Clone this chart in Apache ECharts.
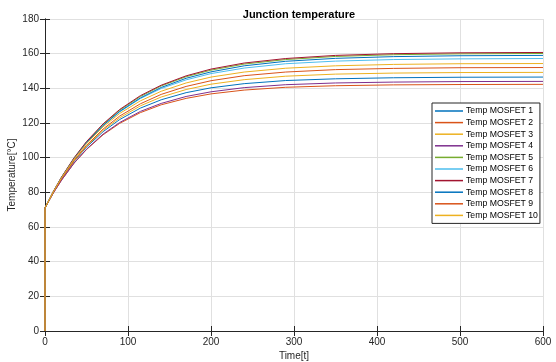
<!DOCTYPE html>
<html>
<head>
<meta charset="utf-8">
<script src="https://cdn.jsdelivr.net/npm/echarts@6/dist/echarts.min.js"></script>
<style>html,body{margin:0;padding:0;background:#fff}#c{width:556px;height:362px}</style>
</head>
<body>
<div id="c"></div>
<script>
// time samples (first two at t=0: step from 0 to start temperature)
const times = [0, 0, 10, 20, 35, 50, 70, 90, 115, 140, 170, 200, 240, 290, 350, 420, 500, 600];
const seriesNames = ['Temp MOSFET 1','Temp MOSFET 2','Temp MOSFET 3','Temp MOSFET 4','Temp MOSFET 5','Temp MOSFET 6','Temp MOSFET 7','Temp MOSFET 8','Temp MOSFET 9','Temp MOSFET 10'];
const colors = ['#0072BD','#D95319','#EDB120','#7E2F8E','#77AC30','#4DBEEE','#A2142F','#0072BD','#D95319','#EDB120'];
const mosfet1  = [0, 71, 79.9, 87.7, 97.8, 106.1, 115.0, 122.0, 128.6, 133.4, 137.5, 140.3, 142.7, 144.5, 145.5, 146.1, 146.4, 146.5];
const mosfet2  = [0, 71, 79.6, 87.1, 96.8, 104.7, 113.2, 119.8, 126.0, 130.5, 134.2, 136.8, 139.0, 140.6, 141.5, 142.0, 142.2, 142.3];
const mosfet3  = [0, 71, 79.9, 87.9, 98.1, 106.6, 115.8, 123.0, 129.9, 135.0, 139.3, 142.4, 145.0, 147.0, 148.2, 148.8, 149.1, 149.2];
const mosfet4  = [0, 71, 79.6, 87.1, 96.9, 104.9, 113.6, 120.3, 126.7, 131.3, 135.3, 138.0, 140.4, 142.1, 143.1, 143.6, 143.9, 144.0];
const mosfet5  = [0, 71, 80.4, 88.8, 99.7, 109.0, 119.2, 127.4, 135.3, 141.4, 146.7, 150.5, 154.0, 156.6, 158.4, 159.4, 159.9, 160.1];
const mosfet6  = [0, 71, 80.3, 88.6, 99.5, 108.6, 118.5, 126.4, 134.1, 139.9, 144.9, 148.5, 151.7, 154.2, 155.7, 156.6, 157.0, 157.2];
const mosfet7  = [0, 71, 80.5, 88.9, 99.9, 109.3, 119.5, 127.8, 135.8, 141.8, 147.2, 151.1, 154.6, 157.2, 159.0, 160.0, 160.5, 160.7];
const mosfet8  = [0, 71, 80.3, 88.6, 99.4, 108.6, 118.6, 126.7, 134.5, 140.5, 145.8, 149.5, 153.0, 155.6, 157.3, 158.3, 158.8, 159.0];
const mosfet9  = [0, 71, 80.0, 88.0, 98.4, 107.1, 116.5, 124.0, 131.1, 136.5, 141.1, 144.4, 147.3, 149.4, 150.8, 151.5, 151.9, 152.0];
const mosfet10 = [0, 71, 80.3, 88.5, 99.2, 108.1, 117.8, 125.5, 132.8, 138.3, 143.1, 146.5, 149.4, 151.6, 153.0, 153.8, 154.2, 154.3];
const allValues = [mosfet1, mosfet2, mosfet3, mosfet4, mosfet5, mosfet6, mosfet7, mosfet8, mosfet9, mosfet10];

const FONT = 'Liberation Sans';
const AX = '#262626';
const chart = echarts.init(document.getElementById('c'), null, {renderer: 'canvas'});
const axisCommon = {
  axisLine: {show: true, lineStyle: {color: AX, width: 1}},
  axisTick: {show: true, inside: true, length: 5, lineStyle: {color: AX}},
};
chart.setOption({
  animation: false,
  backgroundColor: '#fff',
  color: colors,
  title: {
    text: 'Junction temperature', left: 294, top: 4, textAlign: 'center',
    textStyle: {fontFamily: FONT, fontSize: 11, fontWeight: 'bold', color: '#000'}
  },
  grid: {left: 45, right: 13, top: 19, bottom: 31, containLabel: false, outerBoundsMode: 'none'},
  legend: {
    orient: 'vertical', left: 432, top: 103,
    data: seriesNames,
    icon: 'rect', itemWidth: 28, itemHeight: 1.5, itemGap: 1.6,
    padding: [3, 2, 3, 3],
    borderColor: AX, borderWidth: 1, backgroundColor: '#fff', borderRadius: 0,
    textStyle: {fontFamily: FONT, fontSize: 8.7, color: '#000', lineHeight: 10, padding: [0, 0, 0, -2]}
  },
  xAxis: [
    Object.assign({
      type: 'value', min: 0, max: 600, interval: 100,
      name: 'Time[t]', nameLocation: 'middle', nameGap: 20, nameMoveOverlap: false,
      nameTextStyle: {fontFamily: FONT, fontSize: 10, color: AX},
      axisLabel: {fontFamily: FONT, fontSize: 10, color: AX, margin: 6},
      splitLine: {show: true, lineStyle: {color: '#e0e0e0', width: 1}}
    }, axisCommon),
    Object.assign({
      type: 'value', min: 0, max: 600, interval: 100, position: 'top',
      axisLabel: {show: false}, splitLine: {show: false}
    }, axisCommon)
  ],
  yAxis: [
    Object.assign({
      type: 'value', min: 0, max: 180, interval: 20,
      name: 'Temperature[°C]', nameLocation: 'middle', nameGap: 28, nameMoveOverlap: false,
      nameTextStyle: {fontFamily: FONT, fontSize: 10, color: AX},
      axisLabel: {fontFamily: FONT, fontSize: 10, color: AX, margin: 6},
      splitLine: {show: true, lineStyle: {color: '#e0e0e0', width: 1}}
    }, axisCommon),
    Object.assign({
      type: 'value', min: 0, max: 180, interval: 20, position: 'right',
      axisLabel: {show: false}, splitLine: {show: false}
    }, axisCommon)
  ],
  series: seriesNames.map((name, i) => ({
    name: name, type: 'line', xAxisIndex: 0, yAxisIndex: 0,
    showSymbol: false, symbol: 'none', smooth: false,
    lineStyle: {width: 1, color: colors[i]},
    itemStyle: {color: colors[i]},
    data: times.map((t, k) => [t, allValues[i][k]])
  }))
});
</script>
</body>
</html>
